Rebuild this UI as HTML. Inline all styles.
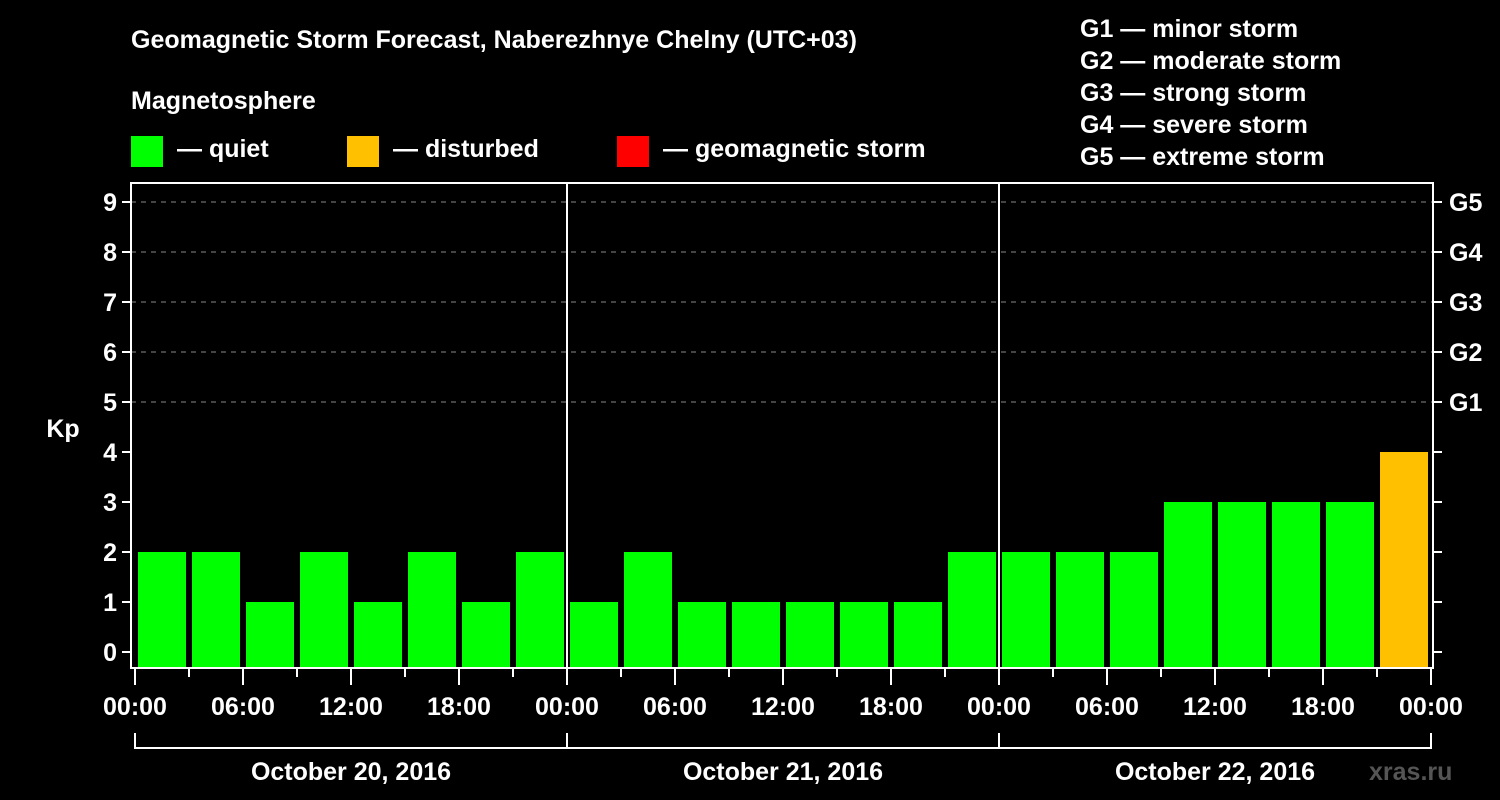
<!DOCTYPE html>
<html><head><meta charset="utf-8"><style>
body{margin:0;background:#000;}
svg{display:block;font-family:"Liberation Sans",Arial,sans-serif;font-weight:bold;}
</style></head><body>
<svg width="1500" height="800" viewBox="0 0 1500 800">
<rect width="1500" height="800" fill="#000"/>
<text x="131" y="48" fill="#fff" font-size="25">Geomagnetic Storm Forecast, Naberezhnye Chelny (UTC+03)</text>
<text x="131" y="109" fill="#fff" font-size="25">Magnetosphere</text>
<g><rect x="131" y="136" width="32" height="31" fill="#00ff00"/><text x="177" y="157" fill="#fff" font-size="25">— quiet</text></g>
<g><rect x="347" y="136" width="32" height="31" fill="#ffc000"/><text x="393" y="157" fill="#fff" font-size="25">— disturbed</text></g>
<g><rect x="617" y="136" width="32" height="31" fill="#ff0000"/><text x="663" y="157" fill="#fff" font-size="25">— geomagnetic storm</text></g>
<g fill="#fff" font-size="25">
<text x="1080" y="37">G1 — minor storm</text>
<text x="1080" y="69">G2 — moderate storm</text>
<text x="1080" y="101">G3 — strong storm</text>
<text x="1080" y="133">G4 — severe storm</text>
<text x="1080" y="165">G5 — extreme storm</text>
</g>
<text x="63" y="437" fill="#fff" font-size="25" text-anchor="middle">Kp</text>
<text x="1369" y="780" fill="#555" font-size="25">xras.ru</text>
<g id="chart"></g>
</svg>
<script>
const kpValues=[2,2,1,2,1,2,1,2, 1,2,1,1,1,1,1,2, 2,2,2,3,3,3,3,4];
const dayLabels=["October 20, 2016","October 21, 2016","October 22, 2016"];
const hourLabels=["00:00","06:00","12:00","18:00"];
const gLabels=["G1","G2","G3","G4","G5"];
const NS="http://www.w3.org/2000/svg";
const g=document.getElementById('chart');
const X0=135,HPX=18,Y0=652,KPX=50,LEFT=131,RIGHT=1433,TOP=183,BOT=668;
const xh=h=>X0+h*HPX;
const yk=k=>Y0-k*KPX;
function mk(tag,attrs){const e=document.createElementNS(NS,tag);for(const k in attrs)e.setAttribute(k,attrs[k]);g.appendChild(e);return e;}
for(let k=0;k<=9;k++){
  if(k>=5){const l=mk('line',{x1:LEFT,x2:RIGHT,y1:yk(k),y2:yk(k),stroke:'#888','stroke-width':1,'stroke-dasharray':'5,5'});
  
  }
  const t=mk('line',{x1:LEFT-9,x2:LEFT,y1:yk(k),y2:yk(k),stroke:'#fff','stroke-width':2});
  
  
  const tr=mk('line',{x1:RIGHT,x2:RIGHT+9,y1:yk(k),y2:yk(k),stroke:'#fff','stroke-width':2});
  
  
  const tx=mk('text',{x:117,y:yk(k)+9,fill:'#fff','font-size':25,'text-anchor':'end'});
  tx.textContent=k;
  
  
}
gLabels.forEach((s,i)=>{
  const t=mk('text',{x:1449,y:yk(i+5)+9,fill:'#fff','font-size':25});
  t.textContent=s;
  
  
});
kpValues.forEach((v,i)=>{
  const col=v>=5?'#ff0000':(v>=4?'#ffc000':'#00ff00');
  const r=mk('rect',{x:xh(i*3)+3,y:yk(v),width:48,height:BOT-yk(v),fill:col});
  
  
});
// day separators
for(let d=1;d<dayLabels.length;d++){
  const l=mk('line',{x1:xh(d*24),x2:xh(d*24),y1:TOP,y2:BOT,stroke:'#fff','stroke-width':2});
  
  
}
const frame=mk('rect',{x:LEFT,y:TOP,width:RIGHT-LEFT,height:BOT-TOP,fill:'none',stroke:'#fff','stroke-width':2});


for(let h=0;h<=72;h+=3){
  const major=h%6===0;
  const t=mk('line',{x1:xh(h),x2:xh(h),y1:BOT,y2:BOT+(major?17:9),stroke:'#fff','stroke-width':2});
  
  
  if(major){
    const tx=mk('text',{x:xh(h),y:715,fill:'#fff','font-size':25,'text-anchor':'middle'});
    tx.textContent=hourLabels[(h/6)%4];
    
    
  }
}
dayLabels.forEach((s,d)=>{
  const a=xh(d*24),b=xh((d+1)*24);
  const p=mk('path',{d:`M${a} 733V748H${b}V733`,fill:'none',stroke:'#fff','stroke-width':2});
  
  
  const t=mk('text',{x:(a+b)/2,y:780,fill:'#fff','font-size':25,'text-anchor':'middle'});
  t.textContent=s;
  
  
});
</script>
</body></html>
